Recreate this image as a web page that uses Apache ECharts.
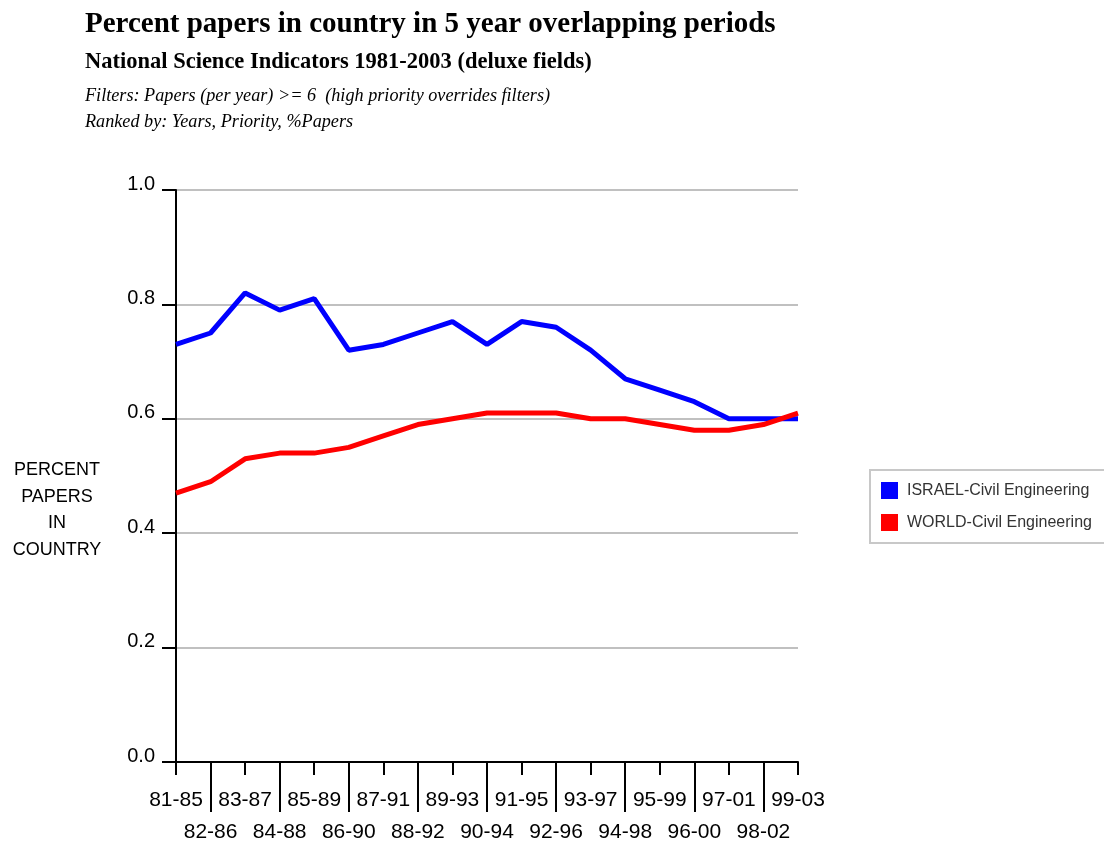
<!DOCTYPE html>
<html>
<head>
<meta charset="utf-8">
<script src="https://cdn.jsdelivr.net/npm/echarts@6/dist/echarts.min.js"></script>
<style>html,body{margin:0;padding:0;background:#fff}#c{width:1104px;height:843px}</style>
</head>
<body>
<div id="c"></div>
<script>
const categories = ['81-85','82-86','83-87','84-88','85-89','86-90','87-91','88-92','89-93','90-94','91-95','92-96','93-97','94-98','95-99','96-00','97-01','98-02','99-03'];
const israel = [0.73,0.75,0.82,0.79,0.81,0.72,0.73,0.75,0.77,0.73,0.77,0.76,0.72,0.67,0.65,0.63,0.60,0.60,0.60];
const world = [0.47,0.49,0.53,0.54,0.54,0.55,0.57,0.59,0.60,0.61,0.61,0.61,0.60,0.60,0.59,0.58,0.58,0.59,0.61];
const yTicks = [0, 0.2, 0.4, 0.6, 0.8, 1.0];
const seriesNames = ['ISRAEL-Civil Engineering','WORLD-Civil Engineering'];

const chart = echarts.init(document.getElementById('c'), null, {renderer:'canvas'});
const serif = 'Liberation Serif';
const sans = 'Liberation Sans';
chart.setOption({
  animation:false,
  backgroundColor:'#fff',
  title:[
    {text:'Percent papers in country in 5 year overlapping periods', left:85, top:10, padding:0,
     textStyle:{fontFamily:serif, fontWeight:'bold', fontSize:29, color:'#000'}},
    {text:'National Science Indicators 1981-2003 (deluxe fields)', left:85, top:51, padding:0,
     textStyle:{fontFamily:serif, fontWeight:'bold', fontSize:22.5, color:'#000'}},
    {text:'Filters: Papers (per year) >= 6  (high priority overrides filters)', left:85, top:87, padding:0,
     textStyle:{fontFamily:serif, fontStyle:'italic', fontWeight:'normal', fontSize:18.2, color:'#000'}},
    {text:'Ranked by: Years, Priority, %Papers', left:85, top:113, padding:0,
     textStyle:{fontFamily:serif, fontStyle:'italic', fontWeight:'normal', fontSize:18.2, color:'#000'}}
  ],
  graphic:[{
    type:'text', x:57, y:510,
    style:{text:'PERCENT\nPAPERS\nIN\nCOUNTRY', fontFamily:sans, fontSize:18,
      lineHeight:26.7, align:'center', verticalAlign:'middle', fill:'#000'}
  }],
  legend:{
    orient:'vertical', left:870, top:470,
    data:seriesNames,
    icon:'rect', itemWidth:17, itemHeight:17, itemGap:15,
    padding:[12,30,12,11],
    borderColor:'#c8c8c8', borderWidth:2,
    textStyle:{fontFamily:sans, fontSize:16, color:'#333', padding:[0,0,0,4]}
  },
  grid:{left:176, right:306, top:190, bottom:81, containLabel:false},
  xAxis:[
    {type:'category', data:categories, boundaryGap:false, position:'bottom',
     axisLine:{show:true, lineStyle:{color:'#000', width:2}},
     axisTick:{show:true, length:13, interval:(i)=>i%2===0, lineStyle:{color:'#000', width:2}},
     axisLabel:{interval:(i)=>i%2===0, margin:28, fontFamily:sans, fontSize:21, color:'#000'},
     splitLine:{show:false}},
    {type:'category', data:categories, boundaryGap:false, position:'bottom', offset:0,
     axisLine:{show:false},
     axisTick:{show:true, length:50, interval:(i)=>i%2===1, lineStyle:{color:'#000', width:2}},
     axisLabel:{interval:(i)=>i%2===1, margin:60, fontFamily:sans, fontSize:21, color:'#000'},
     splitLine:{show:false}}
  ],
  yAxis:{type:'value', min:0, max:1, interval:0.2,
    axisLine:{show:true, lineStyle:{color:'#000', width:2}},
    axisTick:{show:true, length:14, lineStyle:{color:'#000', width:2}},
    axisLabel:{margin:21, fontFamily:sans, fontSize:20, color:'#000', lineHeight:12, verticalAlign:'bottom',
      formatter:(v)=>v.toFixed(1)},
    splitLine:{show:true, lineStyle:{color:'#c0c0c0', width:2}}
  },
  series:[
    {name:seriesNames[0], type:'line', data:israel, xAxisIndex:0, symbol:'none',
     lineStyle:{color:'#0000ff', width:5}, itemStyle:{color:'#0000ff'}},
    {name:seriesNames[1], type:'line', data:world, xAxisIndex:0, symbol:'none',
     lineStyle:{color:'#ff0000', width:5}, itemStyle:{color:'#ff0000'}}
  ]
});
</script>
</body>
</html>
